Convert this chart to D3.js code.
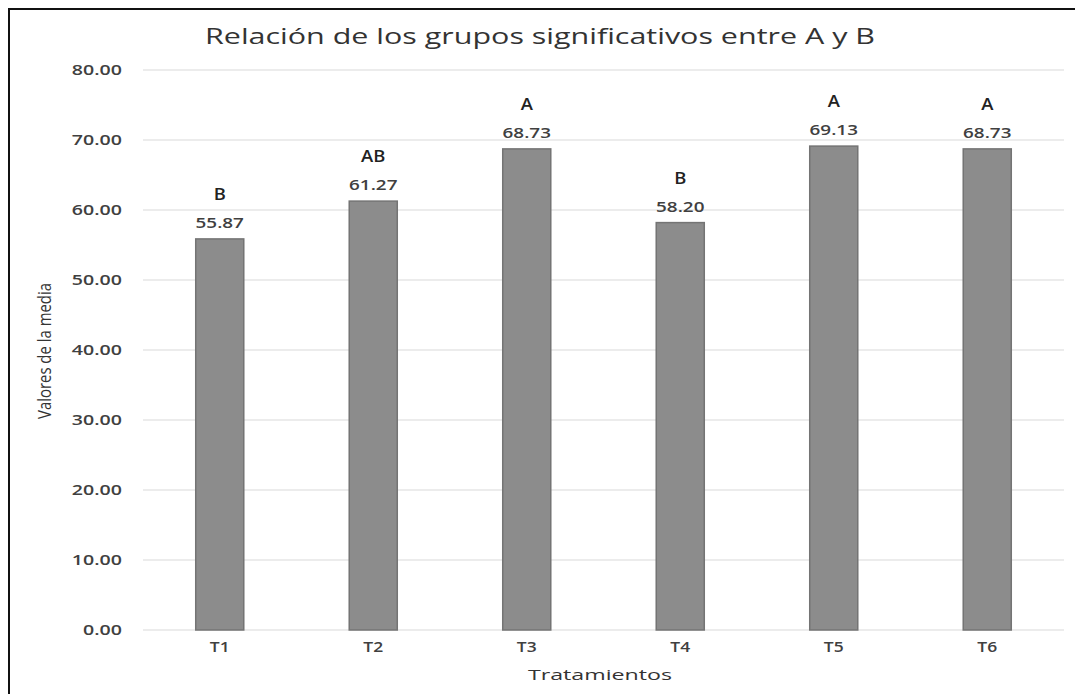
<!DOCTYPE html>
<html>
<head>
<meta charset="utf-8">
<script src="https://cdn.jsdelivr.net/npm/d3@7"></script>
<style>
  body { margin: 0; background: #fff; }
  text { font-family: "Open Sans", "DejaVu Sans", sans-serif; }
</style>
</head>
<body>
<svg id="chart" width="1075" height="694"></svg>
<script>
// Chart data
const categories = ['T1', 'T2', 'T3', 'T4', 'T5', 'T6'];
const means = [55.87, 61.27, 68.73, 58.20, 69.13, 68.73];
const groups = ['B', 'AB', 'A', 'B', 'A', 'A'];
const yTicks = [0, 10, 20, 30, 40, 50, 60, 70, 80];

const svg = d3.select('#chart');
const margin = {left: 143, right: 11, top: 70, bottom: 64};
const width = 1075, height = 694;

// Scales
const x = d3.scaleBand()
    .domain(categories)
    .range([margin.left, width - margin.right])
    .paddingInner(0.687)
    .paddingOuter(0.3435);
const y = d3.scaleLinear()
    .domain([0, 80])
    .range([height - margin.bottom, margin.top]);

// stretch text horizontally around its anchor point
function stretch(sel, k){
    sel.each(function(){
        const t = d3.select(this);
        const tx = +t.attr('x') || 0, ty = +t.attr('y') || 0;
        t.attr('transform', `translate(${tx},${ty}) scale(${k},1) translate(${-tx},${-ty})`);
    });
}

// Outer frame (only top and left edge visible)
svg.append('rect')
    .attr('x', 9).attr('y', 9)
    .attr('width', 1100).attr('height', 700)
    .attr('fill', 'none')
    .attr('stroke', '#111')
    .attr('stroke-width', 2);

// Gridlines
svg.append('g')
    .selectAll('line')
    .data(yTicks)
    .join('line')
    .attr('x1', margin.left)
    .attr('x2', width - margin.right)
    .attr('y1', d => y(d))
    .attr('y2', d => y(d))
    .attr('stroke', '#d9d9d9')
    .attr('stroke-width', 1.2);

// Y axis labels
const yAxis = svg.append('g')
    .attr('transform', `translate(${margin.left},0)`)
    .call(d3.axisLeft(y).tickValues(yTicks).tickFormat(d3.format('.2f')).tickSize(0).tickPadding(21));
yAxis.select('.domain').remove();
yAxis.selectAll('text')
    .attr('font-size', 14)
    .attr('font-weight', 600)
    .attr('fill', '#404040')
    .attr('font-family', '"Open Sans", sans-serif')
    .attr('transform', 'translate(-21,0) scale(1.4,1)')
    .attr('x', 0);

// X axis labels
const xAxis = svg.append('g')
    .attr('transform', `translate(0,${y(0)})`)
    .call(d3.axisBottom(x).tickSize(0).tickPadding(12));
xAxis.select('.domain').remove();
xAxis.selectAll('text')
    .attr('font-size', 14)
    .attr('font-weight', 600)
    .attr('fill', '#404040')
    .attr('font-family', '"Open Sans", sans-serif')
    .attr('transform', 'scale(1.25,1)');

// Bars
svg.append('g')
    .selectAll('rect')
    .data(categories)
    .join('rect')
    .attr('x', d => x(d))
    .attr('y', (d, i) => y(means[i]))
    .attr('width', x.bandwidth())
    .attr('height', (d, i) => y(0) - y(means[i]))
    .attr('fill', '#8c8c8c')
    .attr('stroke', '#747474')
    .attr('stroke-width', 1.5);

// Value labels
svg.append('g')
    .selectAll('text')
    .data(categories)
    .join('text')
    .attr('x', d => x(d) + x.bandwidth() / 2)
    .attr('y', (d, i) => y(means[i]) - 11)
    .attr('text-anchor', 'middle')
    .attr('font-size', 14)
    .attr('font-weight', 600)
    .attr('fill', '#404040')
    .text((d, i) => means[i].toFixed(2))
    .call(stretch, 1.35);

// Group letters
svg.append('g')
    .selectAll('text')
    .data(categories)
    .join('text')
    .attr('x', d => x(d) + x.bandwidth() / 2)
    .attr('y', (d, i) => y(means[i]) - 39)
    .attr('text-anchor', 'middle')
    .attr('font-size', 16)
    .attr('font-weight', 600)
    .attr('fill', '#222')
    .text((d, i) => groups[i])
    .call(stretch, 1.15);

// Title
svg.append('text')
    .attr('x', 540).attr('y', 44)
    .attr('text-anchor', 'middle')
    .attr('font-size', 21)
    .attr('fill', '#333')
    .text('Relación de los grupos significativos entre A y B')
    .attr('textLength', 670)
    .attr('lengthAdjust', 'spacingAndGlyphs');

// X axis title
svg.append('text')
    .attr('x', 600).attr('y', 680)
    .attr('text-anchor', 'middle')
    .attr('font-size', 15)
    .attr('font-weight', 500)
    .attr('fill', '#333')
    .text('Tratamientos')
    .attr('textLength', 144)
    .attr('lengthAdjust', 'spacingAndGlyphs');

// Y axis title
svg.append('text')
    .attr('transform', 'translate(51,351) rotate(-90)')
    .attr('text-anchor', 'middle')
    .attr('font-family', '"Liberation Sans Narrow", "Open Sans", sans-serif')
    .attr('font-size', 18)
    .attr('fill', '#333')
    .text('Valores de la media')
    .attr('textLength', 136)
    .attr('lengthAdjust', 'spacingAndGlyphs');
</script>
</body>
</html>
